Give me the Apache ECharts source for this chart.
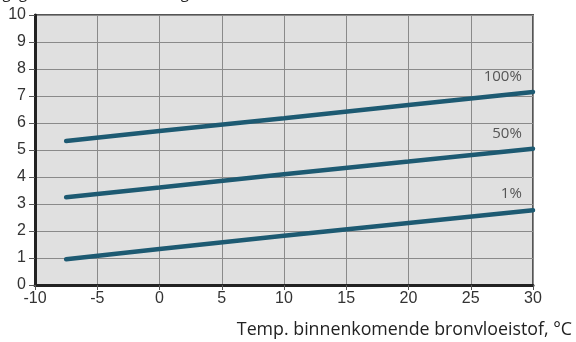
<!DOCTYPE html>
<html><head><meta charset="utf-8">
<script src="https://cdn.jsdelivr.net/npm/echarts@6/dist/echarts.min.js"></script>
<style>html,body{margin:0;padding:0;background:#fff}#c{width:576px;height:342px}</style>
</head><body><div id="c"></div>
<script>
const xPoints = [-7.5, 0, 10, 20, 30];
const seriesNames = ['100%', '50%', '1%'];
const s100 = [5.33, 5.70, 6.18, 6.67, 7.15];
const s50 = [3.25, 3.61, 4.10, 4.57, 5.05];
const s1 = [0.95, 1.33, 1.82, 2.30, 2.77];
const labelPos = [[29.1, 7.7], [29.1, 5.6], [29.1, 3.37]];
const xTitle = 'Temp. binnenkomende bronvloeistof, °C';
const yTitle = 'Afgegeven elektrisch vermogen, kW';

const chart = echarts.init(document.getElementById('c'), null, {renderer: 'canvas'});
const values = [s100, s50, s1];
const series = values.map((v, i) => ({
  name: seriesNames[i], type: 'line', data: xPoints.map((x, k) => [x, v[k]]),
  symbol: 'none', lineStyle: {color: '#1d5a72', width: 4.5, cap: 'round'},
  z: 5,
  markPoint: {
    symbol: 'circle', symbolSize: 0,
    data: [{coord: labelPos[i], value: seriesNames[i]}],
    label: {show: true, position: 'inside', align: 'right', formatter: seriesNames[i],
      color: '#555', fontSize: 15, fontFamily: 'Open Sans'}
  }
}));
chart.setOption({
  animation: false,
  grid: {left: 35, right: 43, top: 15, bottom: 57, show: true, backgroundColor: '#e0e0e0',
    borderColor: '#555', borderWidth: 2},
  xAxis: {type: 'value', min: -10, max: 30, interval: 5,
    axisLine: {show: true, onZero: false, lineStyle: {color: '#222', width: 3}},
    axisTick: {show: true, length: 5, lineStyle: {color: '#555', width: 1}},
    axisLabel: {color: '#333', fontSize: 16, fontFamily: 'Liberation Sans', margin: 6},
    splitLine: {show: true, lineStyle: {color: '#8a8a8a', width: 1}}},
  yAxis: {type: 'value', min: 0, max: 10, interval: 1,
    axisLine: {show: true, onZero: false, lineStyle: {color: '#222', width: 3}},
    axisTick: {show: true, length: 6, lineStyle: {color: '#555', width: 1}},
    axisLabel: {color: '#333', fontSize: 16, fontFamily: 'Liberation Sans', margin: 9},
    splitLine: {show: true, lineStyle: {color: '#8a8a8a', width: 1}}},
  graphic: [
    {type: 'text', right: 4, top: 321, style: {text: xTitle, fill: '#222', fontSize: 17.8, fontFamily: 'Open Sans'}},
    {type: 'text', left: -12, top: -14, style: {text: yTitle, fill: '#222', fontSize: 15, fontFamily: 'Open Sans'}}
  ],
  series: series
});
</script></body></html>
